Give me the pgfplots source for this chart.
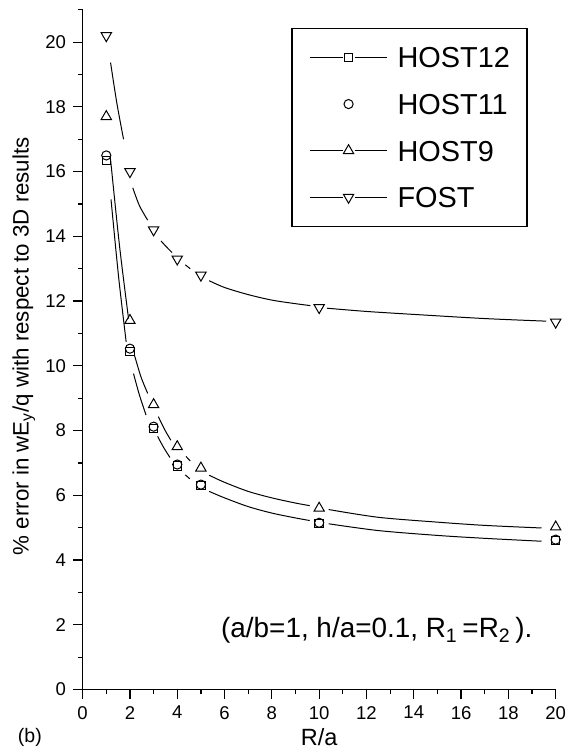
\documentclass[border=0pt]{standalone}
\usepackage{fontspec}
\setmainfont{Liberation Sans}
\usepackage{pgfplots}
\pgfplotsset{compat=1.18}
\pgfplotsset{
  linemarkleg/.style={legend image code/.code={
      \draw[black, line width=0.5pt] (0pt,0pt) -- (16.5pt,0pt) (22.5pt,0pt) -- (39pt,0pt);
      \draw[##1] plot coordinates {(19.5pt,0pt)};}},
  markleg/.style={legend image code/.code={
      \draw[##1] plot coordinates {(19.5pt,0pt)};}},
}

\begin{document}
\begin{tikzpicture}
\begin{axis}[
    scale only axis, width=237.5pt, height=341.25pt,
    xmin=0, xmax=20, ymin=0, ymax=21,
    axis lines*=left, axis line style={line width=0.75pt},
    xtick={0,2,...,20}, ytick={0,2,...,20},
    minor xtick={1,3,...,19}, minor ytick={1,3,...,21},
    tick align=outside, major tick length=4.8pt, minor tick length=2.4pt,
    tick style={black, line width=0.6pt},
    tick label style={font=\fontsize{9.3}{10}\selectfont},
    /pgf/number format/assume math mode=true,
    xlabel={R/a},
    ylabel={\% error in wE\textsubscript{y}/q with respect to 3D results},
    xlabel style={font=\fontsize{11.8}{14}\selectfont,
      at={(axis description cs:0.5,-0.0703)}, anchor=center},
    ylabel style={font=\fontsize{11.2}{13}\selectfont,
      at={(axis description cs:-0.1242,0.505)}, anchor=center},
    clip=false,
    every axis plot/.append style={black, line width=0.5pt},
    legend style={at={(axis cs:8.83,20.45)}, anchor=north west,
      draw=black, line width=0.6pt, inner xsep=8.6pt, inner ysep=9.5pt,
      row sep=13pt, column sep=4.85pt,
      font=\fontsize{14.5}{17}\selectfont,
      nodes={inner sep=0pt, text height=10.4pt, text depth=0pt}},
    legend cell align=left,
  ]
  % fitted curves, drawn in pieces with gaps at the markers
  % FOST
  \addplot[smooth, forget plot] coordinates {(1.18,19.37) (1.45,18.1) (1.73,17.0)};
  \addplot[smooth, forget plot] coordinates {(2.12,15.5) (2.4,14.95) (2.75,14.5)};
  \addplot[smooth, forget plot] coordinates {(3.31,13.86) (3.55,13.67) (3.78,13.5)};
  \addplot[smooth, forget plot] coordinates {(4.34,13.12) (4.55,13.0)};
  \addplot[smooth, forget plot] coordinates {(5.35,12.63) (6,12.42) (7,12.2) (8,12.03) (9,11.92) (9.63,11.86)};
  \addplot[smooth, forget plot] coordinates {(10.33,11.78) (12,11.68) (14.19,11.58) (17,11.46) (19.6,11.38)};
  % HOST9
  \addplot[smooth, forget plot] coordinates {(1.18,16.38) (1.56,13.7) (1.94,11.46)};
  \addplot[smooth, forget plot] coordinates {(2.19,10.33) (2.47,9.65) (2.75,9.15)};
  \addplot[smooth, forget plot] coordinates {(3.2,8.43) (3.46,8.04) (3.73,7.7)};
  \addplot[smooth, forget plot] coordinates {(4.37,7.2) (4.55,7.06)};
  \addplot[smooth, forget plot] coordinates {(5.35,6.62) (6,6.4) (7,6.12) (8,5.92) (9,5.76) (9.6,5.68)};
  \addplot[smooth, forget plot] coordinates {(10.4,5.56) (12.5,5.32) (15,5.17) (17,5.07) (19.4,4.99)};
  % HOST12
  \addplot[smooth, forget plot] coordinates {(1.2,15.14) (1.52,12.75) (1.84,10.74)};
  \addplot[smooth, forget plot] coordinates {(2.15,9.76) (2.4,9.1) (2.68,8.48)};
  \addplot[smooth, forget plot] coordinates {(3.17,7.82) (3.43,7.47) (3.69,7.17)};
  \addplot[smooth, forget plot] coordinates {(4.34,6.63) (4.53,6.51)};
  \addplot[smooth, forget plot] coordinates {(5.35,6.12) (6,5.92) (7,5.65) (8,5.45) (9,5.3) (9.6,5.22)};
  \addplot[smooth, forget plot] coordinates {(10.4,5.12) (12.5,4.91) (15,4.76) (17,4.67) (19.4,4.58)};

  % data markers
  \addplot[only marks, mark=square, mark size=2.1pt, linemarkleg]
    coordinates {(1,16.35) (2,10.45) (3,8.07) (4,6.9) (5,6.3) (10,5.12) (20,4.6)};
  \addlegendentry{HOST12}
  \addplot[only marks, mark=o, mark size=2.3pt, markleg]
    coordinates {(1,16.5) (2,10.53) (3,8.12) (4,6.95) (5,6.33) (10,5.15) (20,4.63)};
  \addlegendentry{HOST11}
  \addplot[only marks, mark=triangle, mark size=3pt, linemarkleg]
    coordinates {(1,17.7) (2,11.4) (3,8.8) (4,7.5) (5,6.84) (10,5.6) (20,5.02)};
  \addlegendentry{HOST9}
  \addplot[only marks, mark=triangle, mark size=3pt, mark options={rotate=180}, linemarkleg]
    coordinates {(1,20.2) (2,16.0) (3,14.2) (4,13.3) (5,12.8) (10,11.8) (20,11.35)};
  \addlegendentry{FOST}

  \node[anchor=west, font=\fontsize{14}{16}\selectfont] at (axis cs:5.56,1.82)
    {(a/b=1, h/a=0.1, R\textsubscript{1}\,=R\textsubscript{2}\,).};
  \node[font=\fontsize{9.8}{11}\selectfont] at (axis description cs:-0.1116,-0.0703) {(b)};
  \path (axis description cs:-0.1747,-0.0889) rectangle (axis description cs:1.0232,1.0144);
\end{axis}
\end{tikzpicture}
\end{document}
